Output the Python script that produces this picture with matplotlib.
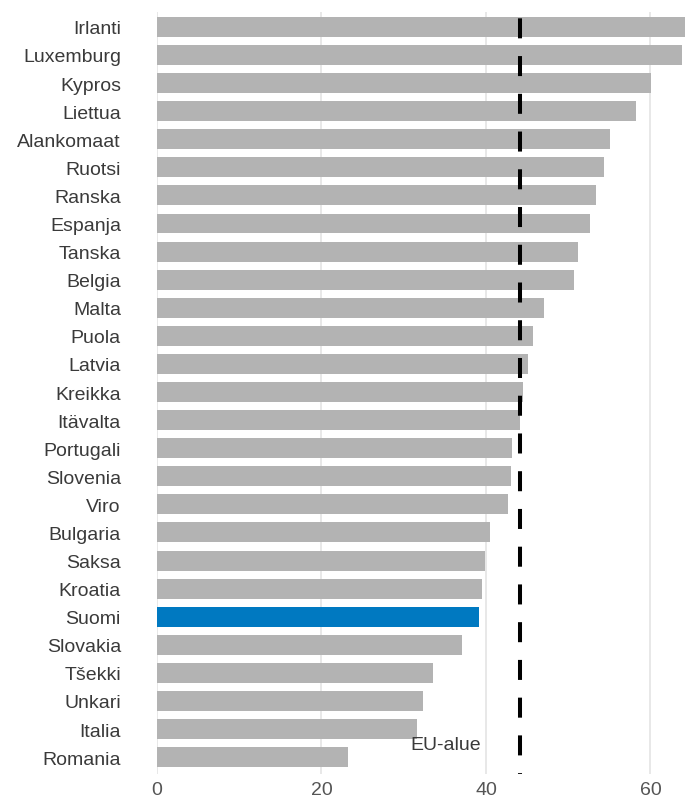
import matplotlib
matplotlib.use("Agg")
import matplotlib.pyplot as plt

# maat ylhäältä alas
maat = ['Irlanti', 'Luxemburg', 'Kypros', 'Liettua', 'Alankomaat', 'Ruotsi',
        'Ranska', 'Espanja', 'Tanska', 'Belgia', 'Malta', 'Puola', 'Latvia',
        'Kreikka', 'Itävalta', 'Portugali', 'Slovenia', 'Viro', 'Bulgaria',
        'Saksa', 'Kroatia', 'Suomi', 'Slovakia', 'Tšekki', 'Unkari', 'Italia',
        'Romania']
arvot = [66.0, 63.8, 60.1, 58.2, 55.1, 54.4, 53.4, 52.6, 51.2, 50.7, 47.1,
         45.7, 45.1, 44.5, 44.1, 43.2, 43.1, 42.7, 40.5, 39.9, 39.5, 39.2,
         37.1, 33.5, 32.3, 31.6, 23.2]
eu_alue = 44.1
korostus = 'Suomi'
x_tikit = [0, 20, 40, 60]

plt.rcParams['font.family'] = ['Liberation Sans', 'DejaVu Sans']

fig = plt.figure(figsize=(6.85, 8.03), dpi=100)
ax = fig.add_axes([157 / 685, 1 - 775 / 803, 1 - 157 / 685, (775 - 13) / 803])

varit = ['#0079c1' if m == korostus else '#b3b3b3' for m in maat]
ypos = list(range(len(maat)))
ax.barh(ypos, arvot, height=0.71, color=varit, zorder=2)

ax.set_xlim(0, 64.2)
ax.set_ylim(26.6, -0.53)

# EU-alueen katkoviiva
ax.plot([eu_alue, eu_alue], [-0.53, 26.6], color='black', lw=2.9,
        linestyle=(7.8, (4.97, 4.4)), solid_capstyle='butt',
        dash_capstyle='butt', zorder=3)
ax.text(39.4, 25.55, 'EU-alue', ha='right', va='center',
        fontsize=14, color='#3a3a3a', zorder=4)

ax.set_yticks(ypos)
ax.set_yticklabels(maat, fontsize=14, color='#3a3a3a')
ax.set_xticks(x_tikit)
ax.set_xticklabels([str(t) for t in x_tikit], fontsize=14, color='#555555')
ax.tick_params(length=0)
ax.tick_params(axis='y', pad=26)
ax.tick_params(axis='x', pad=5)

ax.grid(axis='x', color='#e6e6e6', lw=1.3, zorder=0)
ax.grid(axis='y', visible=False)
for s in ax.spines.values():
    s.set_visible(False)

fig.savefig('out.png', dpi=100)
